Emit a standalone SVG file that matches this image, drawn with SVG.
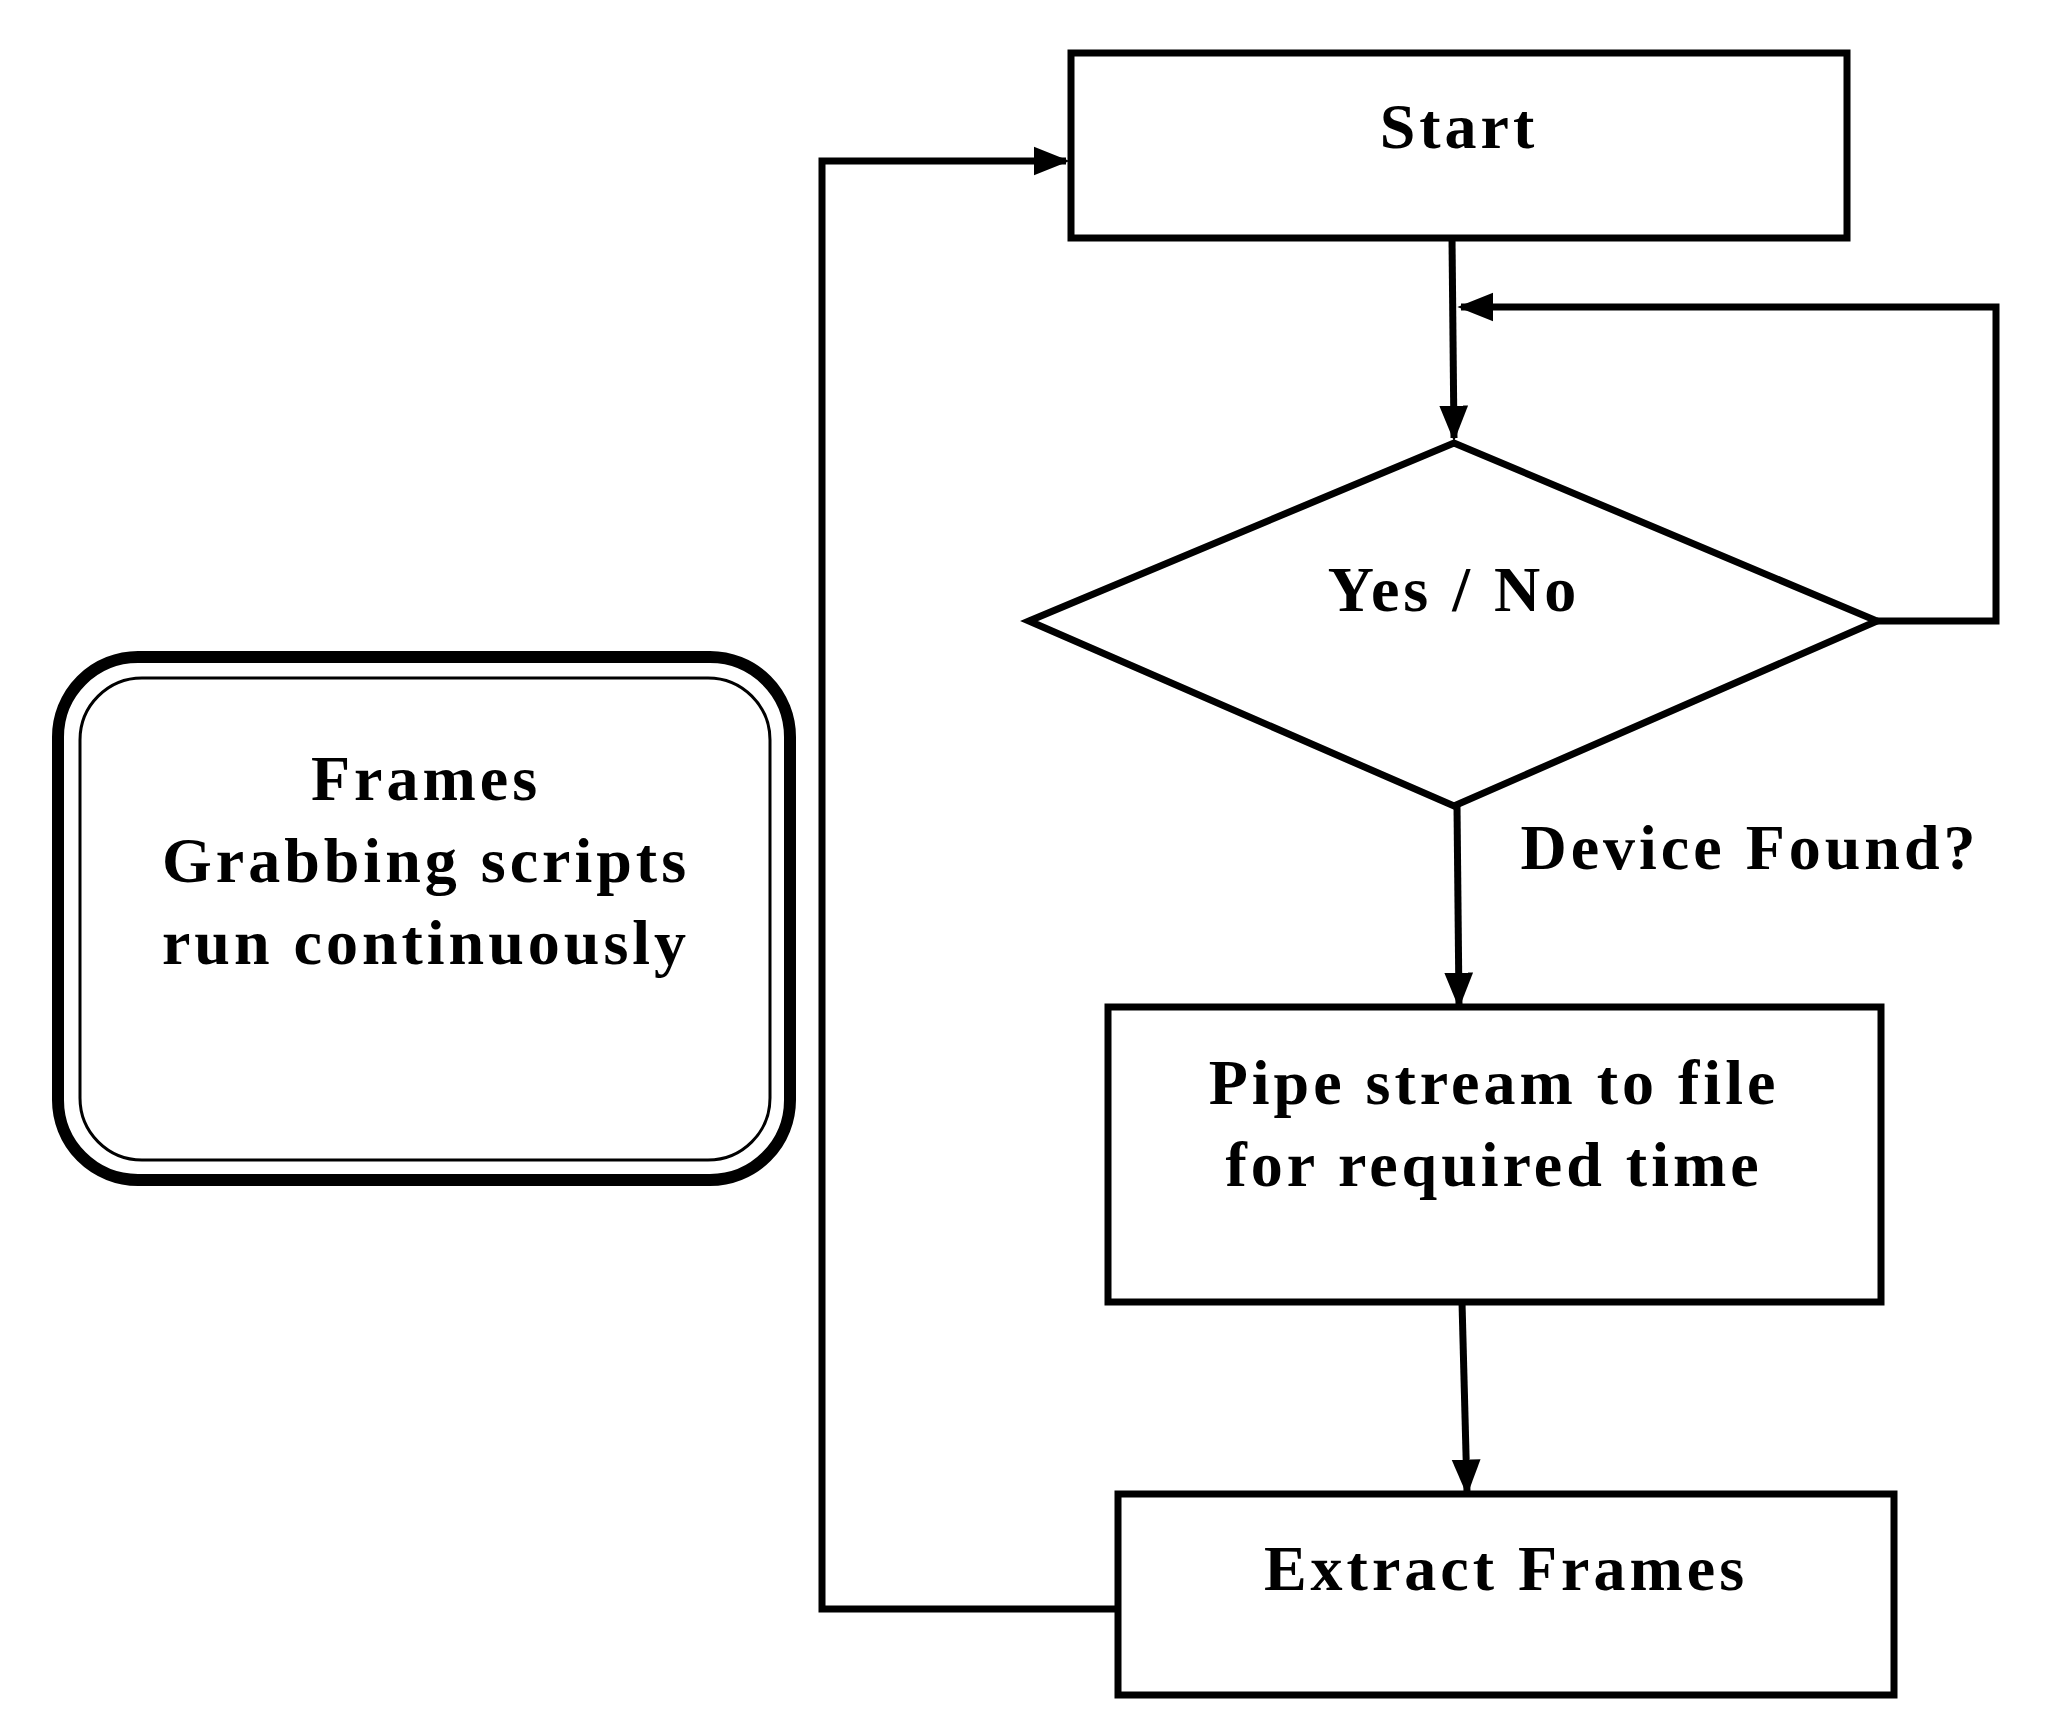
<svg xmlns="http://www.w3.org/2000/svg" width="2052" height="1724" viewBox="0 0 2052 1724">
<style>
.b{fill:#fff;stroke:#000;stroke-width:7}
.t{font-family:"Liberation Serif",serif;font-weight:bold;font-size:64px;letter-spacing:4px;text-anchor:middle;fill:#000}
.c{fill:none;stroke:#000;stroke-width:7}
</style>
<defs>
<marker id="m" viewBox="0 0 10 10" refX="9" refY="5" markerWidth="36" markerHeight="36" markerUnits="userSpaceOnUse" orient="auto"><path d="M0,1L10,5L0,9z"/></marker></defs>
<rect width="2052" height="1724" fill="#fff"/>
<g id="start"><rect class="b" x="1071" y="53" width="776" height="185"/><text class="t" x="1459" y="148">Start</text></g>
<g id="decision"><polygon class="b" points="1029,621 1454,443 1877,621 1454,806"/><text class="t" x="1454" y="611">Yes / No</text><text class="t" x="1750" y="869">Device Found?</text></g>
<g id="pipe"><rect class="b" x="1108" y="1007" width="773" height="295"/><text class="t" x="1494" y="1104">Pipe stream to file</text><text class="t" x="1494" y="1186">for required time</text></g>
<g id="extract"><rect class="b" x="1118" y="1494" width="776" height="201"/><text class="t" x="1506" y="1590">Extract Frames</text></g>
<g id="note"><rect x="58" y="657" width="732" height="523" rx="80" fill="#fff" stroke="#000" stroke-width="12"/><rect x="80" y="678" width="690" height="482" rx="62" fill="none" stroke="#000" stroke-width="3"/><text class="t" x="426" y="800">Frames</text><text class="t" x="426" y="882">Grabbing scripts</text><text class="t" x="426" y="964">run continuously</text></g>
<g id="connectors">
<path class="c" d="M1452,238L1454,438" marker-end="url(#m)"/>
<path class="c" d="M1877,621H1996V307H1461" marker-end="url(#m)"/>
<path class="c" d="M1457,806L1459,1005" marker-end="url(#m)"/>
<path class="c" d="M1462,1302L1467,1492" marker-end="url(#m)"/>
<path class="c" d="M1118,1609H822V161H1066" marker-end="url(#m)"/>
</g>
</svg>
